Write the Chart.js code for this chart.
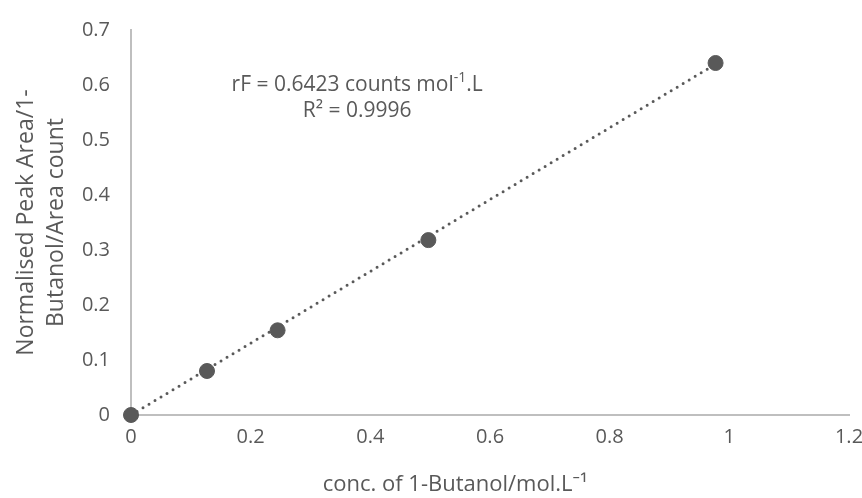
<!DOCTYPE html>
<html>
<head>
<meta charset="utf-8">
<script src="https://cdn.jsdelivr.net/npm/chart.js@4"></script>
<style>
  html, body { margin: 0; padding: 0; background: #fff; }
  #wrap { width: 862px; height: 498px; }
</style>
</head>
<body>
<div id="wrap"><canvas id="calChart" width="862" height="498"></canvas></div>
<script>
// measured points
const concs = [0, 0.127, 0.245, 0.497, 0.977];
const areas = [0, 0.080, 0.154, 0.318, 0.640];
// trendline end points (as drawn in the original)
const trendX = [0, 0.977];
const trendY = [0, 0.638];
const xTicks = [0, 0.2, 0.4, 0.6, 0.8, 1, 1.2];
const yTicks = [0, 0.1, 0.2, 0.3, 0.4, 0.5, 0.6, 0.7];
const eqnLines = ['rF = 0.6423 counts mol', 'R² = 0.9996'];
const xTitle = 'conc. of 1-Butanol/mol.L⁻¹';

const grey = '#595959';
const axisGrey = '#bfbfbf';
const fam = '"Open Sans", "Noto Sans", sans-serif';

// trendline label + x title, placed like excel does
const eqnLabel = {
  id: 'eqnLabel',
  afterDatasetsDraw(chart) {
    const ctx = chart.ctx;
    const area = chart.chartArea;
    const cx = area.left + (area.right - area.left) * 0.315;
    const y1 = area.top + (area.bottom - area.top) * 0.142;
    ctx.save();
    ctx.fillStyle = grey;
    ctx.textBaseline = 'middle';
    ctx.font = '21px ' + fam;
    const main = eqnLines[0];
    const sup = '-1';
    const tail = '.L';
    const wMain = ctx.measureText(main).width;
    ctx.font = '14px ' + fam;
    const wSup = ctx.measureText(sup).width;
    ctx.font = '21px ' + fam;
    const wTail = ctx.measureText(tail).width;
    let x = cx - (wMain + wSup + wTail) / 2;
    ctx.textAlign = 'left';
    ctx.fillText(main, x, y1);
    x += wMain;
    ctx.font = '14px ' + fam;
    ctx.fillText(sup, x, y1 - 7);
    x += wSup;
    ctx.font = '21px ' + fam;
    ctx.fillText(tail, x, y1);
    ctx.textAlign = 'center';
    ctx.fillText(eqnLines[1], cx, y1 + 26);

    // axis title under the x axis
    ctx.font = '22px ' + fam;
    ctx.fillText(xTitle, chart.width * 0.528, chart.height - 13);
    ctx.restore();
  }
};

const ctx = document.getElementById('calChart').getContext('2d');
const calChart = new Chart(ctx, {
  type: 'scatter',
  data: {
    datasets: [{
      label: 'trend',
      type: 'line',
      data: trendX.map((x, i) => ({ x: x, y: trendY[i] })),
      borderColor: grey,
      borderWidth: 3,
      borderDash: [0, 7],
      borderCapStyle: 'round',
      pointRadius: 0,
      fill: false,
      clip: false,
      order: 2
    }, {
      label: 'data',
      data: concs.map((x, i) => ({ x: x, y: areas[i] })),
      backgroundColor: grey,
      borderColor: grey,
      pointRadius: 7.5,
      pointHoverRadius: 7.5,
      clip: false,
      order: 1
    }]
  },
  options: {
    responsive: false,
    animation: false,
    events: [],
    layout: { padding: { top: 30, right: 13, left: 0, bottom: 0 } },
    plugins: {
      legend: { display: false },
      tooltip: { enabled: false }
    },
    scales: {
      x: {
        type: 'linear',
        min: 0,
        max: 1.2,
        afterBuildTicks: s => { s.ticks = xTicks.map(v => ({ value: v })); },
        afterFit: s => { s.height = 83; s.paddingRight = 0; s.paddingLeft = 0; },
        grid: { display: false, drawTicks: false },
        border: { color: axisGrey, width: 2 },
        ticks: {
          color: grey, font: { size: 20, family: fam }, padding: 10, maxRotation: 0,
          callback: v => String(v)
        },
        title: { display: false }
      },
      y: {
        type: 'linear',
        min: 0,
        max: 0.7,
        afterBuildTicks: s => { s.ticks = yTicks.map(v => ({ value: v })); },
        afterFit: s => { s.width = 131; s.paddingTop = 0; s.paddingBottom = 0; },
        grid: { display: false, drawTicks: false },
        border: { color: axisGrey, width: 2 },
        ticks: { color: grey, font: { size: 20, family: fam }, padding: 21 },
        title: {
          display: true,
          text: ['Normalised Peak Area/1-', 'Butanol/Area count'],
          color: grey,
          font: { size: 23, family: fam, lineHeight: 1.3 },
          padding: { top: 12, bottom: 0 }
        }
      }
    }
  },
  plugins: [eqnLabel]
});
</script>
</body>
</html>
